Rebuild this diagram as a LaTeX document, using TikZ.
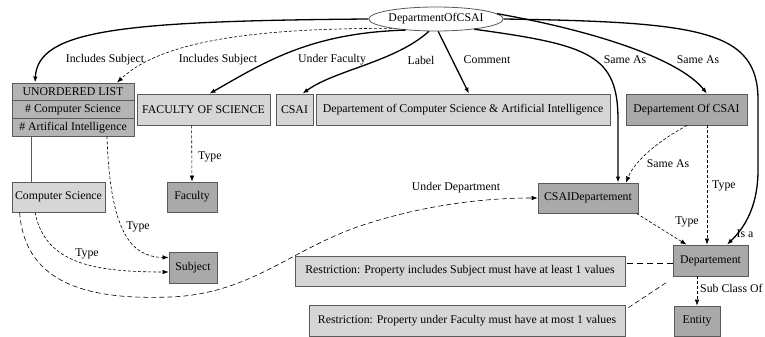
\documentclass[tikz,border=0pt]{standalone}
\usepackage{fontspec}
\setmainfont{Liberation Serif}
\usetikzlibrary{arrows.meta,shapes.geometric}
\definecolor{lightbox}{HTML}{D6D6D6}
\definecolor{darkbox}{HTML}{A9A9A9}
\definecolor{listbox}{HTML}{B4B4B4}
\definecolor{edgegray}{HTML}{5A5A5A}
\begin{document}
\begin{tikzpicture}[x=1pt,y=-1pt,
  font=\fontsize{11.8}{13}\selectfont,
  box/.style={draw=edgegray,line width=0.8pt,rectangle,inner sep=0pt,align=center},
  light/.style={box,fill=lightbox},
  dark/.style={box,fill=darkbox},
  listrow/.style={box,fill=listbox,minimum width=122pt,minimum height=17.67pt},
  rel/.style={line width=1.3pt,-{Latex[length=6pt,width=4.5pt]}},
  reld/.style={line width=0.6pt,dash pattern=on 3pt off 2pt,-{Latex[length=6pt,width=4.5pt]}},
  plain/.style={line width=0.6pt,dash pattern=on 5pt off 3pt},
  lab/.style={inner sep=1pt}
]
\useasboundingbox (0,0) rectangle (765,337);
\fill[white] (0,0) rectangle (765,337);

% resource nodes
\node[ellipse,draw=edgegray,line width=0.8pt,fill=white,minimum width=122pt,minimum height=24pt,inner sep=0pt] (ell) at (436,19) {DepartmentOfCSAI};

\node[listrow] (ul1) at (73,91.8) {UNORDERED LIST};
\node[listrow] (ul2) at (73,109.5) {\# Computer Science};
\node[listrow] (ul3) at (73,127.2) {\# Artifical Intelligence};

\node[light,minimum width=133pt,minimum height=31pt] (fos) at (203.5,109.5) {FACULTY OF SCIENCE};
\node[light,minimum width=37pt,minimum height=31pt] (csai) at (294.5,109.5) {CSAI};
\node[light,minimum width=294pt,minimum height=31pt] (dcom) at (463,109.5) {Departement of Computer Science \& Artificial Intelligence};
\node[dark,minimum width=121pt,minimum height=31pt] (docsai) at (686.5,109.5) {Departement Of CSAI};

\node[light,minimum width=93pt,minimum height=30pt] (cs) at (58.5,197) {Computer Science};
\node[dark,minimum width=50pt,minimum height=30pt] (fac) at (192,197) {Faculty};
\node[dark,minimum width=48pt,minimum height=31pt] (subj) at (193,267.5) {Subject};
\node[dark,minimum width=100pt,minimum height=30pt] (csaid) at (588,198) {CSAIDepartement};
\node[dark,minimum width=75pt,minimum height=31pt] (dep) at (710.5,260.5) {Departement};
\node[dark,minimum width=46pt,minimum height=30pt] (ent) at (697,321) {Entity};

\node[light,minimum width=330pt,minimum height=30pt] (r1) at (460,271) {Restriction: Property includes Subject must have at least 1 values};
\node[light,minimum width=316pt,minimum height=31pt] (r2) at (467,320.5) {Restriction: Property under Faculty must have at most 1 values};

% properties of DepartmentOfCSAI
\draw[rel] (ell.west) .. controls (120,21) and (38,30) .. ([xshift=-38pt]ul1.north);
\draw[reld] (ell.192) .. controls (250,28) and (160,42) .. ([xshift=44pt]ul1.north);
\draw[rel] (ell.200) .. controls (310,33) and (265,62) .. ([xshift=6pt]fos.north);
\draw[rel] (ell.240) .. controls (395,62) and (335,70) .. ([xshift=8pt]csai.north);
\draw[rel] (ell.-80) -- ([xshift=6pt]dcom.north);
\draw[rel] (ell.-15) .. controls (590,45) and (618,55) .. (618,120) -- ([xshift=30pt]csaid.north);
\draw[rel] (ell.5) .. controls (600,32) and (680,60) .. ([xshift=20.5pt]docsai.north);
\draw[rel] (ell.east) .. controls (700,22) and (758,30) .. (758,100) -- (758,170) .. controls (758,212) and (740,232) .. ([xshift=16.5pt]dep.north);

% class structure
\draw[reld] ([xshift=0.5pt]docsai.south west |- docsai.south) ++(61pt,0) .. controls (660,140) and (635,160) .. ([xshift=38pt]csaid.north);
\draw[reld] ([xshift=20.5pt]docsai.south) -- ([xshift=-3.5pt]dep.north);
\draw[reld] ([xshift=-2pt]csaid.south east) -- ([xshift=-24pt]dep.north);
\draw[reld] ([xshift=-13.5pt]dep.south) -- (ent.north);
\draw[plain,dash pattern=on 6pt off 4pt] ([yshift=-3pt]dep.west) -- ([yshift=-3pt]dep.west -| r1.east);
\draw[plain] ([xshift=3pt,yshift=-3pt]r2.north east) -- ([xshift=-6pt,yshift=-6pt]dep.south west);

% subject list
\draw[line width=0.8pt,edgegray] ([xshift=-42pt]ul3.south) -- ([xshift=-42pt]ul3.south |- cs.north);
\draw[reld] ([xshift=34pt]ul3.south) .. controls (110,230) and (130,257) .. ([yshift=10pt]subj.west);
\draw[reld] ([xshift=-23.5pt]cs.south) .. controls (45,262) and (90,272) .. ([yshift=-4.5pt]subj.west);
\draw[reld] ([xshift=8pt]fos.south west |- fos.south) ++(47pt,0) -- (fac.north);
\draw[reld,dash pattern=on 5pt off 3pt] ([xshift=8pt]cs.south west) .. controls (25,285) and (90,300) .. (170,297) .. controls (250,294) and (290,250) .. (360,226) .. controls (420,206) and (480,198) .. (csaid.west);

% edge labels
\node[lab] (l1) at (105,60) {Includes Subject};
\node[lab] (l2) at (218,60) {Includes Subject};
\node[lab] (l3) at (332,60) {Under Faculty};
\node[lab] (l4) at (421,60) {Label};
\node[lab] (l5) at (487,60) {Comment};
\node[lab] (l6) at (625,60) {Same As};
\node[lab] (l7) at (698,60) {Same As};
\node[lab] (l8) at (668,164) {Same As};
\node[lab,anchor=west] (l9) at (711,186) {Type};
\node[lab] (l10) at (687,222) {Type};
\node[lab] (l11) at (745,234) {Is a};
\node[lab,anchor=west] (l12) at (699,288) {Sub Class Of};
\node[lab,anchor=west] (l13) at (197,157) {Type};
\node[lab] (l14) at (138,227) {Type};
\node[lab] (l15) at (87,254) {Type};
\node[lab] (l16) at (456,188) {Under Department};
\end{tikzpicture}
\end{document}
